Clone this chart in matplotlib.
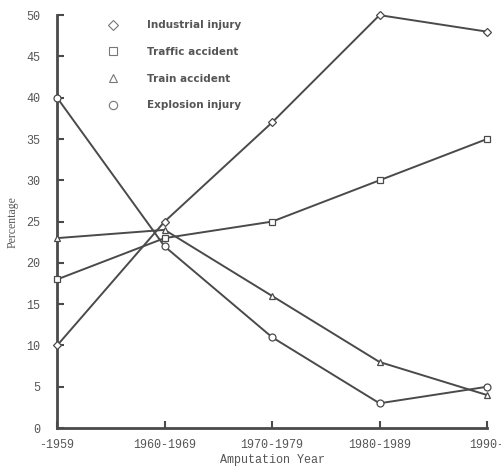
import matplotlib.pyplot as plt

decades = ["-1959", "1960-1969", "1970-1979", "1980-1989", "1990-"]
industrial = [10, 25, 37, 50, 48]
traffic = [18, 23, 25, 30, 35]
train = [23, 24, 16, 8, 4]
explosion = [40, 22, 11, 3, 5]

ink = "#4a4a4a"
x = list(range(len(decades)))

fig = plt.figure(figsize=(5.01, 4.73), dpi=100)
ax = fig.add_axes([0.114, 0.095, 0.858, 0.873])

series = [
    (industrial, "D", 4, "Industrial injury"),
    (traffic, "s", 5, "Traffic accident"),
    (train, "^", 5, "Train accident"),
    (explosion, "o", 5, "Explosion injury"),
]
for vals, m, ms, name in series:
    ax.plot(x, vals, color=ink, lw=1.4, marker=m, ms=ms,
            mfc="white", mec=ink, mew=0.9, label=name, clip_on=False,
            zorder=3)

ax.set_xlim(0, 4)
ax.set_ylim(0, 50)
ax.set_xticks(x)
ax.set_xticklabels(decades)
ax.set_yticks(range(0, 51, 5))

for s in ["top", "right"]:
    ax.spines[s].set_visible(False)
for s in ["left", "bottom"]:
    ax.spines[s].set_linewidth(2)
    ax.spines[s].set_color(ink)

ax.tick_params(direction="in", length=5, width=1.5, color=ink,
               labelcolor="#555555", labelsize=8.5, pad=12)
ax.tick_params(axis="x", pad=8)
for lab in ax.get_xticklabels() + ax.get_yticklabels():
    lab.set_family("Liberation Mono")

ax.set_xlabel("Amputation Year", family="Liberation Mono", fontsize=8.5,
              color="#555555", labelpad=2)
ax.set_ylabel("Percentage", family="Liberation Serif", fontsize=8.5,
              color="#555555", labelpad=6)

# legend: markers only, no line
handles = []
for vals, m, ms, name in series:
    h, = ax.plot([], [], ls="none", marker=m, ms=ms + 1, mfc="white",
                 mec="#777777", mew=0.8, label=name)
    handles.append(h)
ax.legend(handles=handles, loc="upper left", bbox_to_anchor=(0.085, 1.01),
          frameon=False, handletextpad=2.2, labelspacing=1.6,
          prop={"family": "DejaVu Sans", "size": 7.5, "weight": "bold"},
          labelcolor="#555555")

fig.savefig("out.png", dpi=100)
